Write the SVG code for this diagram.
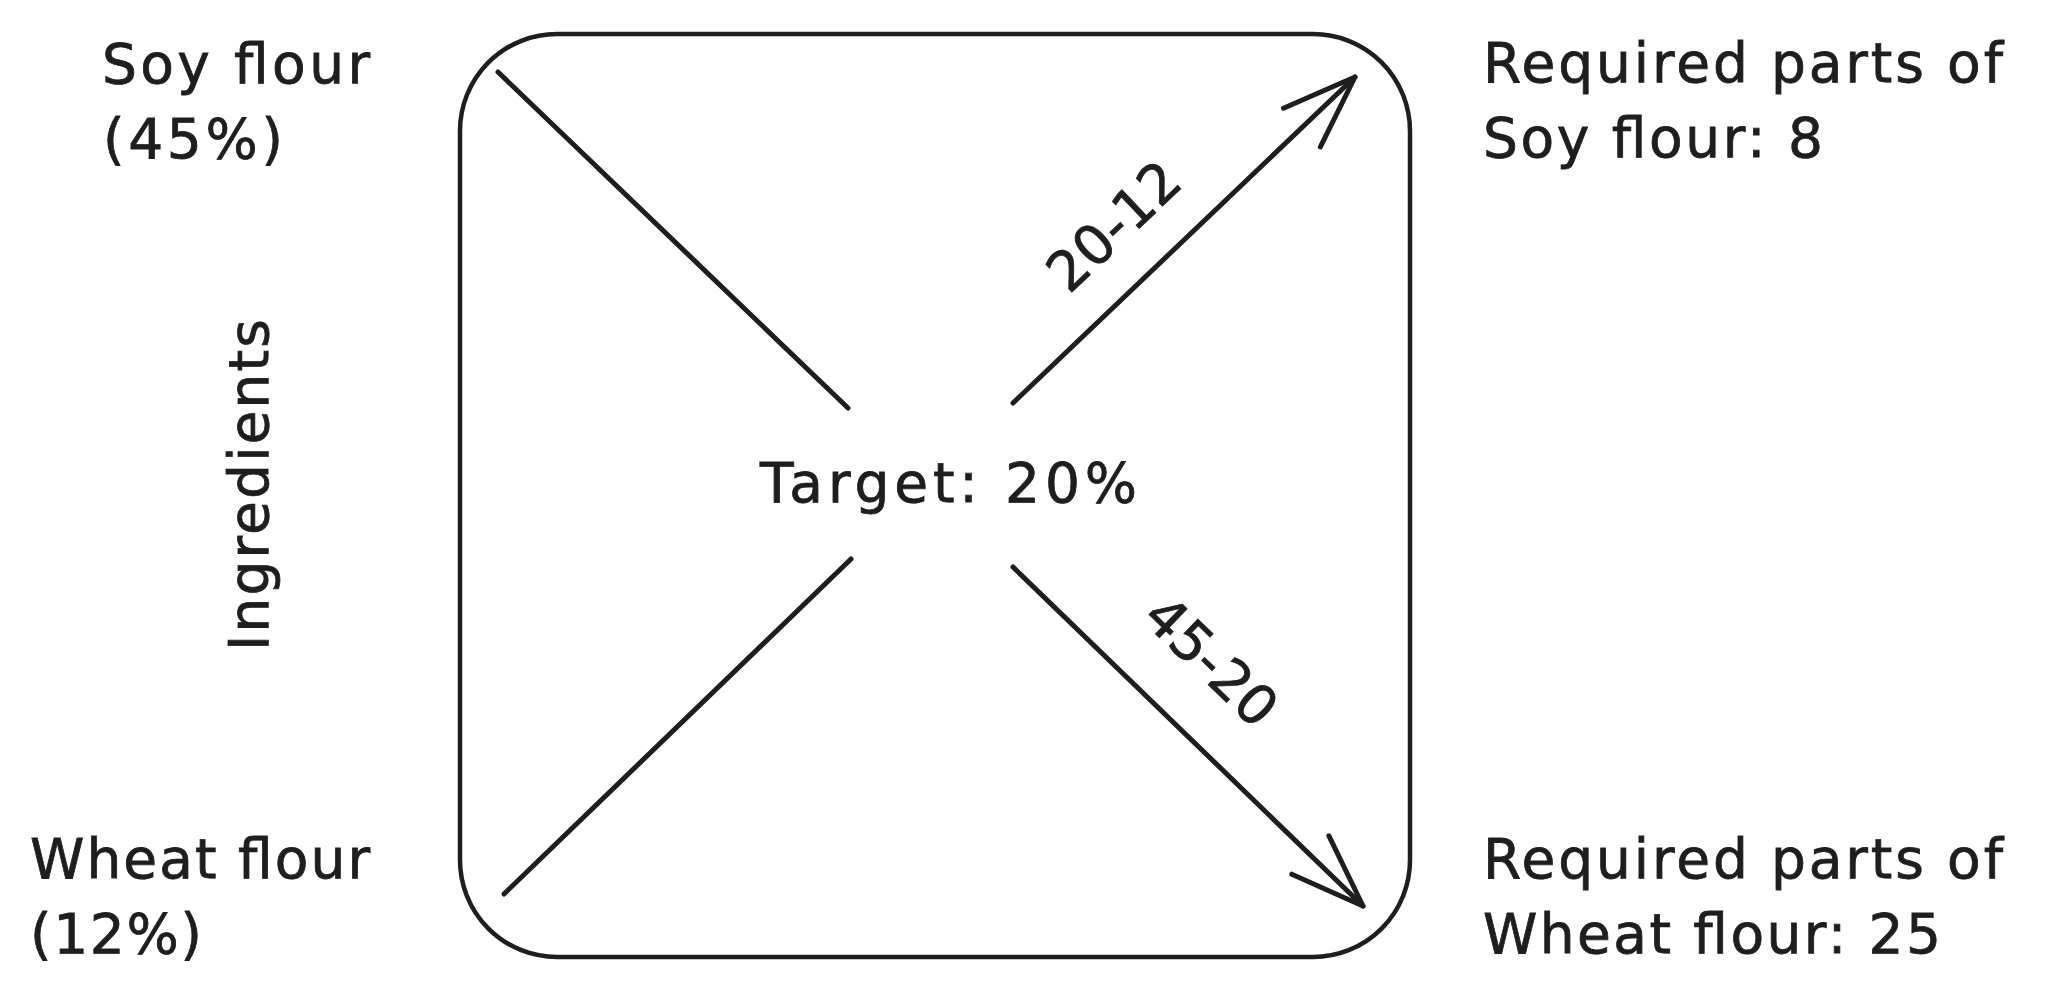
<svg xmlns="http://www.w3.org/2000/svg" width="2057" height="1005" viewBox="0 0 2057 1005">
<style>
.lbl{font-family:"DejaVu Sans","Liberation Sans",sans-serif;font-size:55px;fill:#1e1e1e;stroke:#1e1e1e;stroke-width:0.8px;}
.ln{fill:none;stroke:#1e1e1e;stroke-width:5;stroke-linecap:round;stroke-linejoin:round;}
.box{fill:none;stroke:#1e1e1e;stroke-width:4.5;}
</style>
<defs>
<marker id="arrow" markerUnits="userSpaceOnUse" markerWidth="100" markerHeight="100" viewBox="-90 -50 100 100" refX="0" refY="0" orient="auto" overflow="visible">
<path d="M -73.3,-26.7 L 0,0 L -73.3,26.7" fill="none" stroke="#1e1e1e" stroke-width="5" stroke-linecap="round" stroke-linejoin="round"/>
</marker>
</defs>
<rect width="2057" height="1005" fill="#ffffff"/>
<g id="frame">
<rect class="box" x="460" y="34" width="950" height="923" rx="97" ry="97"/>
</g>
<g id="connectors">
<line class="ln" x1="498" y1="72" x2="848" y2="408"/>
<line class="ln" x1="1013" y1="403" x2="1355" y2="77" marker-end="url(#arrow)"/>
<line class="ln" x1="504" y1="894" x2="851" y2="559"/>
<line class="ln" x1="1013" y1="567" x2="1363" y2="906" marker-end="url(#arrow)"/>
</g>
<g id="soy-flour">
<text class="lbl" x="102" y="83" textLength="268" lengthAdjust="spacing">Soy flour</text>
<text class="lbl" x="103" y="158" textLength="180" lengthAdjust="spacing">(45%)</text>
</g>
<g id="wheat-flour">
<text class="lbl" x="30" y="878" textLength="340" lengthAdjust="spacing">Wheat flour</text>
<text class="lbl" x="30" y="953" textLength="172" lengthAdjust="spacing">(12%)</text>
</g>
<g id="ingredients">
<text class="lbl" x="268" y="485" text-anchor="middle" transform="rotate(-90 268 485)" textLength="332" lengthAdjust="spacing">Ingredients</text>
</g>
<g id="soy-result">
<text class="lbl" x="1483" y="82" textLength="520" lengthAdjust="spacing">Required parts of</text>
<text class="lbl" x="1483" y="157" textLength="340" lengthAdjust="spacing">Soy flour: 8</text>
</g>
<g id="wheat-result">
<text class="lbl" x="1483" y="878" textLength="520" lengthAdjust="spacing">Required parts of</text>
<text class="lbl" x="1483" y="953" textLength="458" lengthAdjust="spacing">Wheat flour: 25</text>
</g>
<g id="target">
<text class="lbl" x="760" y="502" textLength="377" lengthAdjust="spacing">Target: 20%</text>
</g>
<g id="label-20-12">
<text class="lbl" x="1127" y="240" text-anchor="middle" transform="rotate(-43.5 1127 240)">20-12</text>
</g>
<g id="label-45-20">
<text class="lbl" x="1198" y="675" text-anchor="middle" transform="rotate(44 1198 675)">45-20</text>
</g>
</svg>
